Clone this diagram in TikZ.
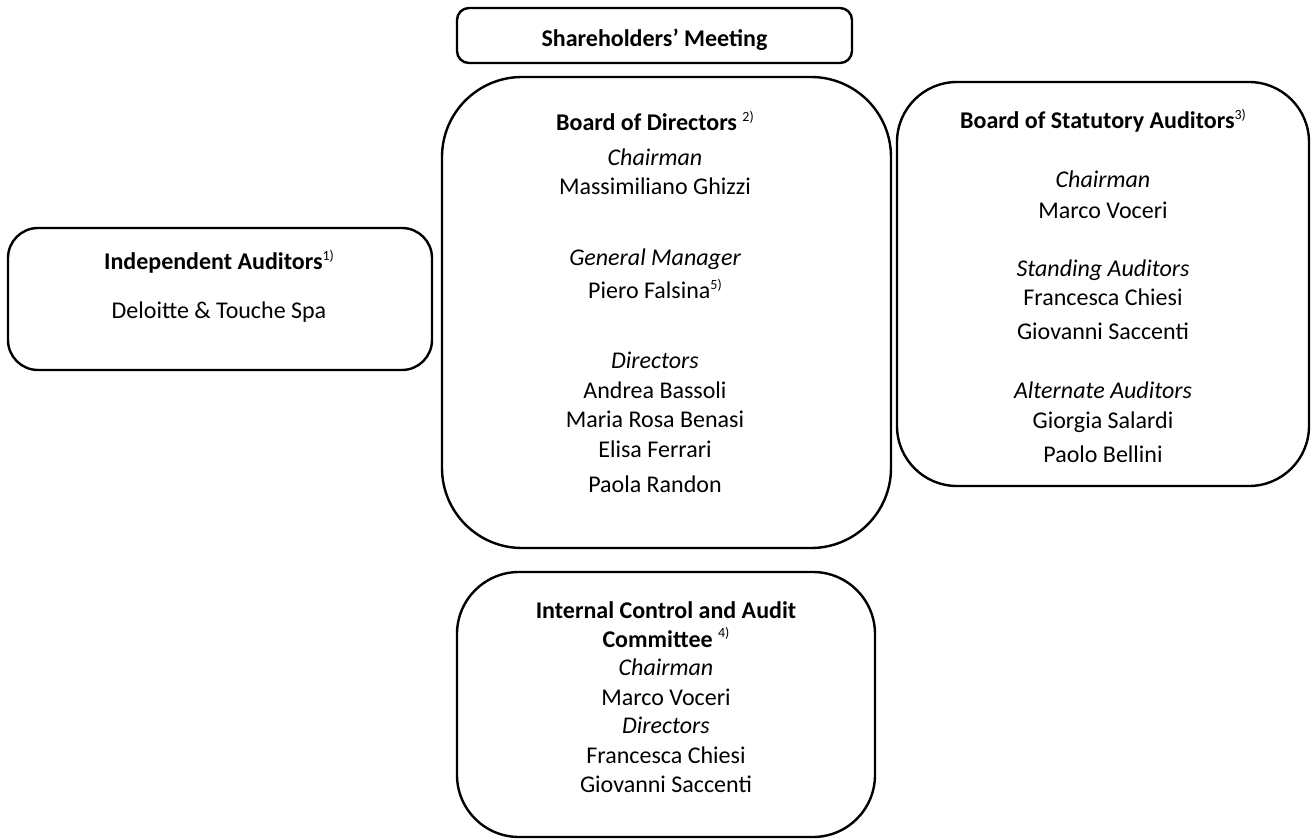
\documentclass[tikz,border=0pt]{standalone}
\usepackage{fontspec}
\setmainfont{Carlito}
\newcommand{\fn}[1]{\raisebox{0.8ex}{\normalfont\fontsize{7}{8}\selectfont #1}}
\begin{document}
\begin{tikzpicture}[x=0.5pt,y=-0.5pt,
  box/.style={draw, line width=1.2pt, inner sep=0pt},
  txt/.style={anchor=base, inner sep=0pt, font=\fontsize{12}{14.5}\selectfont},
  ttl/.style={txt, font=\fontsize{12}{14.5}\selectfont\bfseries},
  rol/.style={txt, font=\fontsize{12}{14.5}\selectfont\itshape}]
\useasboundingbox (0,0) rectangle (1314,840);
% boxes
\node[box, rounded corners=6pt, minimum width=197.5pt, minimum height=27.5pt] (sh) at (654.5,35.5) {};
\node[box, rounded corners=40pt, minimum width=224.5pt, minimum height=235.5pt] (bod) at (666.5,312.5) {};
\node[box, rounded corners=15pt, minimum width=212pt, minimum height=71pt] (ind) at (220,299) {};
\node[box, rounded corners=30pt, minimum width=206pt, minimum height=202pt] (sta) at (1103,284) {};
\node[box, rounded corners=31pt, minimum width=209pt, minimum height=132.5pt] (icc) at (666,704.5) {};
% Shareholders
\node[ttl] (sht) at (654.5,47) {Shareholders’ Meeting};
% Board of Directors
\node[ttl] (b1) at (655,131) {Board of Directors \fn{2)}};
\node[rol] (b2) at (655,166) {Chairman};
\node[txt] (b3) at (655,195) {Massimiliano Ghizzi};
\node[rol] (b4) at (655,265) {General Manager};
\node[txt] (b5) at (655,299) {Piero Falsina\fn{5)}};
\node[rol] (b6) at (655,368) {Directors};
\node[txt] (b7) at (655,399) {Andrea Bassoli};
\node[txt] (b8) at (655,427) {Maria Rosa Benasi};
\node[txt] (b9) at (655,457) {Elisa Ferrari};
\node[txt] (b10) at (655,492) {Paola Randon};
% Independent auditors
\node[ttl] (i1) at (219,270) {Independent Auditors\fn{1)}};
\node[txt] (i2) at (219,319) {Deloitte \& Touche Spa};
% Statutory auditors
\node[ttl] (s1) at (1103,129) {Board of Statutory Auditors\fn{3)}};
\node[rol] (s2) at (1103,188) {Chairman};
\node[txt] (s3) at (1103,219) {Marco Voceri};
\node[rol] (s4) at (1103,277) {Standing Auditors};
\node[txt] (s5) at (1103,306) {Francesca Chiesi};
\node[txt] (s6) at (1103,340) {Giovanni Saccenti};
\node[rol] (s7) at (1103,399) {Alternate Auditors};
\node[txt] (s8) at (1103,428) {Giorgia Salardi};
\begin{scope}
\clip (900,440) rectangle (1300,463);
\node[txt] (s9) at (1103,462) {Paolo Bellini};
\end{scope}
% Internal control
\node[ttl] (c1) at (666,618) {Internal Control and Audit};
\node[ttl] (c2) at (666,647) {Committee \fn{4)}};
\node[rol] (c3) at (666,675) {Chairman};
\node[txt] (c4) at (666,705) {Marco Voceri};
\node[rol] (c5) at (666,733) {Directors};
\node[txt] (c6) at (666,763) {Francesca Chiesi};
\node[txt] (c7) at (666,792) {Giovanni Saccenti};
\end{tikzpicture}
\end{document}
